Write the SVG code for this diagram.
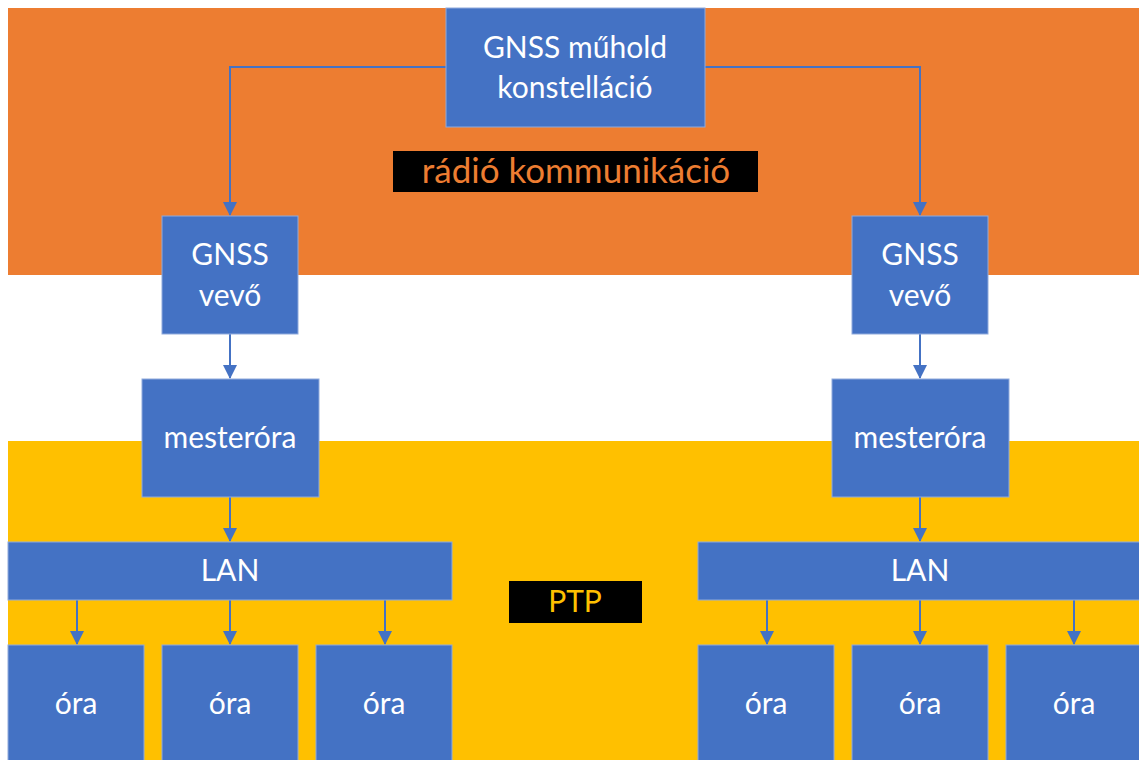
<svg xmlns="http://www.w3.org/2000/svg" width="1139" height="760" viewBox="0 0 1139 760">
<style>
.box{fill:#4472C4;stroke:#8FAADC;stroke-width:1}
.t{font-family:Lato,"Open Sans",sans-serif;font-size:30px;fill:#fff;text-anchor:middle}
.c{fill:none;stroke:#4472C4;stroke-width:2}
</style>
<defs>
<marker id="ah" markerUnits="userSpaceOnUse" markerWidth="14" markerHeight="14" refX="13" refY="7" orient="auto">
<path d="M0,0 L14,7 L0,14 Z" fill="#4472C4"/>
</marker>
</defs>
<rect width="1139" height="760" fill="#fff"/>
<g id="bands">
<rect x="8" y="8" width="1131" height="267" fill="#ED7D31"/>
<rect x="8" y="441" width="1131" height="319" fill="#FFC000"/>
</g>
<g id="connectors">
<path class="c" d="M446,67 H230 V215" marker-end="url(#ah)"/>
<path class="c" d="M705,67 H920 V215" marker-end="url(#ah)"/>
<path class="c" d="M230,334 V378" marker-end="url(#ah)"/>
<path class="c" d="M920,334 V378" marker-end="url(#ah)"/>
<path class="c" d="M230,497 V541" marker-end="url(#ah)"/>
<path class="c" d="M920,497 V541" marker-end="url(#ah)"/>
<path class="c" d="M77,600 V644" marker-end="url(#ah)"/>
<path class="c" d="M230,600 V644" marker-end="url(#ah)"/>
<path class="c" d="M385,600 V644" marker-end="url(#ah)"/>
<path class="c" d="M767,600 V644" marker-end="url(#ah)"/>
<path class="c" d="M920,600 V644" marker-end="url(#ah)"/>
<path class="c" d="M1074,600 V644" marker-end="url(#ah)"/>
</g>
<g id="sat"><rect class="box" x="446" y="8" width="259" height="119"/><text class="t" x="575" y="58">GNSS műhold</text><text class="t" x="575" y="98">konstelláció</text></g>
<g id="radio"><rect x="393" y="151" width="365" height="41" fill="#000"/><text class="t" x="576" y="183" style="fill:#ED7D31;font-size:35px">rádió kommunikáció</text></g>
<g id="gnssL"><rect class="box" x="162" y="216" width="136" height="118"/><text class="t" x="230" y="265">GNSS</text><text class="t" x="230" y="306">vevő</text></g>
<g id="gnssR"><rect class="box" x="852" y="216" width="136" height="118"/><text class="t" x="920" y="265">GNSS</text><text class="t" x="920" y="306">vevő</text></g>
<g id="masterL"><rect class="box" x="142" y="379" width="177" height="118"/><text class="t" x="230" y="448">mesteróra</text></g>
<g id="masterR"><rect class="box" x="832" y="379" width="177" height="118"/><text class="t" x="920" y="448">mesteróra</text></g>
<g id="lanL"><rect class="box" x="8" y="542" width="444" height="58"/><text class="t" x="230" y="581">LAN</text></g>
<g id="lanR"><rect class="box" x="698" y="542" width="445" height="58"/><text class="t" x="920" y="581">LAN</text></g>
<g id="ptp"><rect x="509" y="581" width="133" height="42" fill="#000"/><text class="t" x="575" y="612" style="fill:#FFC000">PTP</text></g>
<g id="ora1"><rect class="box" x="8" y="645" width="136" height="120"/><text class="t" x="76" y="714">óra</text></g>
<g id="ora2"><rect class="box" x="162" y="645" width="136" height="120"/><text class="t" x="230" y="714">óra</text></g>
<g id="ora3"><rect class="box" x="316" y="645" width="136" height="120"/><text class="t" x="384" y="714">óra</text></g>
<g id="ora4"><rect class="box" x="698" y="645" width="136" height="120"/><text class="t" x="766" y="714">óra</text></g>
<g id="ora5"><rect class="box" x="852" y="645" width="136" height="120"/><text class="t" x="920" y="714">óra</text></g>
<g id="ora6"><rect class="box" x="1006" y="645" width="136" height="120"/><text class="t" x="1074" y="714">óra</text></g>
</svg>
